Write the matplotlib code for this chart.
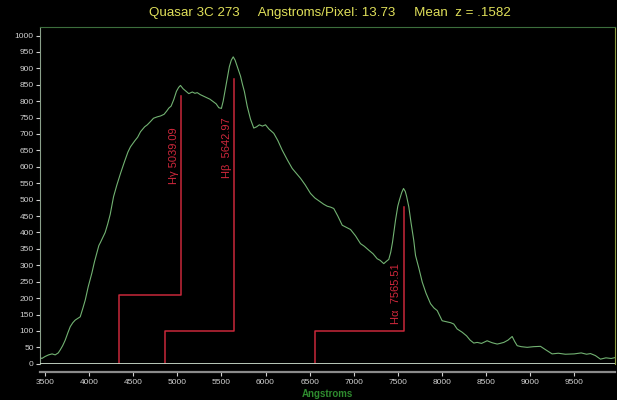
import matplotlib.pyplot as plt

# spectrum (wavelength in Angstroms, counts)
wavelength = [3450, 3464, 3500, 3540, 3580, 3615, 3650, 3672, 3700, 3729, 3760, 3786,
              3815, 3842, 3870, 3899, 3930, 3956, 3990, 4031, 4060, 4087, 4110, 4129,
              4155, 4182, 4210, 4239, 4277, 4315, 4356, 4400, 4440, 4469, 4520, 4550,
              4583, 4630, 4660, 4696, 4730, 4770, 4810, 4850, 4880, 4904, 4930, 4960,
              4990, 5015, 5036, 5065, 5100, 5130, 5170, 5200, 5226, 5260, 5300, 5339,
              5370, 5400, 5440, 5471, 5500, 5520, 5547, 5570, 5590, 5612, 5634, 5655,
              5680, 5700, 5717, 5740, 5760, 5793, 5830, 5867, 5900, 5930, 5965, 6000,
              6040, 6070, 6094, 6140, 6189, 6220, 6250, 6303, 6350, 6397, 6450, 6510,
              6560, 6624, 6660, 6700, 6740, 6774, 6820, 6870, 6920, 6964, 7020, 7077,
              7120, 7171, 7220, 7266, 7300, 7341, 7370, 7398, 7420, 7440, 7474, 7500,
              7520, 7545, 7565, 7585, 7600, 7625, 7650, 7681, 7701, 7740, 7777, 7820,
              7871, 7910, 7947, 8003, 8050, 8100, 8135, 8173, 8230, 8280, 8320, 8362,
              8400, 8450, 8513, 8570, 8627, 8660, 8702, 8750, 8797, 8825, 8854, 8900,
              8967, 9040, 9118, 9180, 9250, 9320, 9400, 9500, 9580, 9640, 9685, 9740,
              9798, 9860, 9920, 9968]
counts = [18, 16, 22, 27, 30, 27, 33, 42, 55, 72, 95, 113,
          125, 133, 138, 143, 170, 194, 235, 276, 310, 337, 360, 370,
          385, 400, 425, 455, 509, 545, 580, 615, 645, 661, 680, 690,
          707, 722, 728, 738, 748, 752, 755, 760, 770, 779, 785, 805,
          830, 842, 848, 838, 830, 823, 828, 824, 826, 820, 815, 810,
          806, 800, 792, 780, 778, 800, 840, 875, 905, 925, 935, 925,
          905, 890, 876, 850, 830, 784, 745, 718, 722, 728, 724, 728,
          715, 708, 702, 680, 651, 635, 620, 595, 580, 565, 545, 519,
          505, 493, 486, 480, 477, 473, 450, 422, 415, 409, 390, 366,
          358, 346, 335, 320, 315, 305, 312, 318, 340, 370, 437, 480,
          500, 522, 534, 525, 510, 478, 430, 376, 330, 290, 249, 215,
          183, 170, 162, 131, 128, 125, 121, 106, 96, 85, 72, 63,
          65, 62, 70, 64, 60, 62, 65, 72, 83, 68, 55, 52,
          50, 52, 53, 42, 30, 32, 29, 30, 33, 29, 31, 25,
          14, 18, 16, 19]

# hydrogen line markers: rest wavelength, observed wavelength, step and top heights
line_names = ['H\u03b3', 'H\u03b2', 'H\u03b1']
rest_wl = [4340, 4861, 6563]
obs_wl = [5039.09, 5642.97, 7565.51]
step_y = [208, 99, 99]
top_y = [815, 868, 478]
label_y = [719, 752, 305]
label_txt = ['H\u03b3 5039.09', 'H\u03b2  5642.97', 'H\u03b1  7565.51']

plt.rcParams['font.family'] = ['Liberation Sans', 'DejaVu Sans']

fig = plt.figure(figsize=(6.17, 4.0), dpi=100, facecolor='black')
ax = fig.add_axes([40 / 617, 1 - 364.4 / 400, 575 / 617, 337.4 / 400])
ax.set_facecolor('black')

ax.plot(wavelength, counts, color='#72b272', lw=0.8)

for i in range(len(line_names)):
    ax.plot([rest_wl[i], rest_wl[i], obs_wl[i], obs_wl[i]],
            [0, step_y[i], step_y[i], top_y[i]], color='#c8283a', lw=1.1)
    ax.annotate(label_txt[i], (obs_wl[i], label_y[i]), xytext=(-5.2, 0),
                textcoords='offset points', rotation=90, ha='center', va='top',
                color='#d0283c', fontsize=8)

ax.axhline(0, color='#c8d8c8', lw=1.3, zorder=3)

ax.set_xlim(3443, 9963)
ax.set_ylim(-2, 1026)
ax.set_xticks(range(3500, 10000, 500))
ax.set_yticks(range(0, 1001, 50))

ax.spines['top'].set_color('#3c6e3c')
ax.spines['right'].set_color('#8a9a40')
ax.spines['left'].set_color('#8aa08a')
ax.spines['bottom'].set_position(('outward', 5.5))
ax.spines['bottom'].set_color('#8a8a8a')
ax.spines['bottom'].set_linewidth(1.6)

ax.tick_params(axis='y', colors='#d0d0d0', labelsize=6, length=3, width=0.8, pad=1.5)
ax.tick_params(axis='x', colors='#d0d0d0', labelsize=6, length=3, width=0.8, pad=2)

ax.set_xlabel('Angstroms', color='#2e8b2e', fontsize=7, fontweight='bold', labelpad=2)

fig.text(0.535, 0.968, 'Quasar 3C 273     Angstroms/Pixel: 13.73     Mean  z = .1582',
         color='#e0e05a', fontsize=9.6, ha='center', va='center')

fig.savefig('out.png', dpi=100, facecolor='black')
